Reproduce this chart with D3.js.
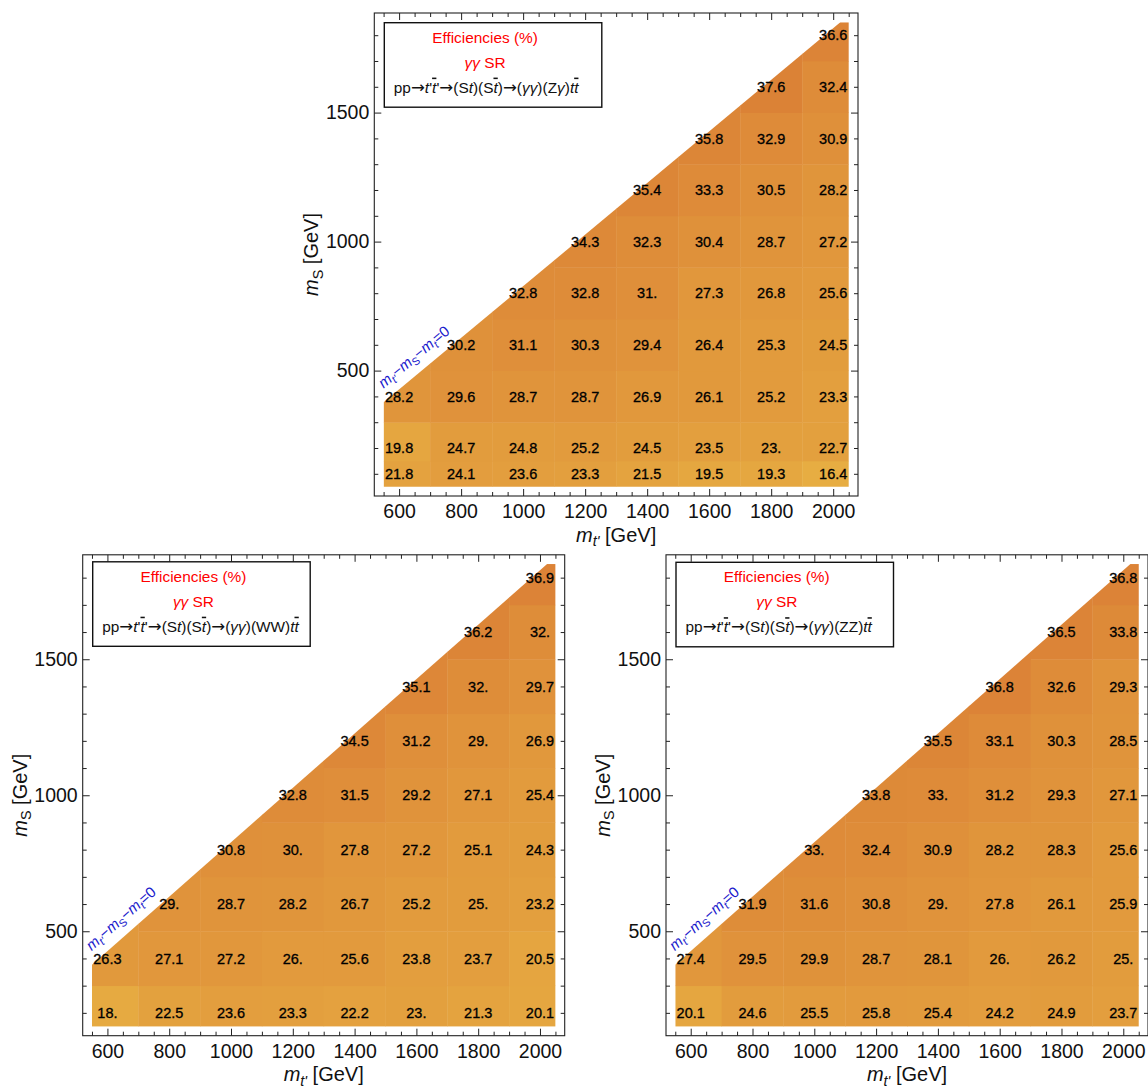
<!DOCTYPE html>
<html><head><meta charset="utf-8">
<script src="https://cdn.jsdelivr.net/npm/d3@7"></script>
<style>body{margin:0;background:#fff} svg{display:block} text{font-family:"Liberation Sans",Arial,Helvetica,sans-serif}</style>
</head><body>
<svg id="chart" width="1148" height="1088"></svg>
<script>
// ---------------- data ----------------
const mtPoints = [600, 800, 1000, 1200, 1400, 1600, 1800, 2000];   // m_t' (GeV)
const msRowsZg = [100, 200, 400, 600, 800, 1000, 1200, 1400, 1600, 1800]; // m_S rows, Zγ panel
const msRowsVV = [200, 400, 600, 800, 1000, 1200, 1400, 1600, 1800];      // m_S rows, WW / ZZ panels
const mTop = 173;  // top mass for the kinematic line m_t' - m_S - m_t = 0
// efficiencies (%) : one row per m_S, one column per m_t' (null = forbidden)
const effZgamma = [
  [21.8, 24.1, 23.6, 23.3, 21.5, 19.5, 19.3, 16.4],
  [19.8, 24.7, 24.8, 25.2, 24.5, 23.5, 23.0, 22.7],
  [28.2, 29.6, 28.7, 28.7, 26.9, 26.1, 25.2, 23.3],
  [null, 30.2, 31.1, 30.3, 29.4, 26.4, 25.3, 24.5],
  [null, null, 32.8, 32.8, 31.0, 27.3, 26.8, 25.6],
  [null, null, null, 34.3, 32.3, 30.4, 28.7, 27.2],
  [null, null, null, null, 35.4, 33.3, 30.5, 28.2],
  [null, null, null, null, null, 35.8, 32.9, 30.9],
  [null, null, null, null, null, null, 37.6, 32.4],
  [null, null, null, null, null, null, null, 36.6]
];
const effWW = [
  [18.0, 22.5, 23.6, 23.3, 22.2, 23.0, 21.3, 20.1],
  [26.3, 27.1, 27.2, 26.0, 25.6, 23.8, 23.7, 20.5],
  [null, 29.0, 28.7, 28.2, 26.7, 25.2, 25.0, 23.2],
  [null, null, 30.8, 30.0, 27.8, 27.2, 25.1, 24.3],
  [null, null, null, 32.8, 31.5, 29.2, 27.1, 25.4],
  [null, null, null, null, 34.5, 31.2, 29.0, 26.9],
  [null, null, null, null, null, 35.1, 32.0, 29.7],
  [null, null, null, null, null, null, 36.2, 32.0],
  [null, null, null, null, null, null, null, 36.9]
];
const effZZ = [
  [20.1, 24.6, 25.5, 25.8, 25.4, 24.2, 24.9, 23.7],
  [27.4, 29.5, 29.9, 28.7, 28.1, 26.0, 26.2, 25.0],
  [null, 31.9, 31.6, 30.8, 29.0, 27.8, 26.1, 25.9],
  [null, null, 33.0, 32.4, 30.9, 28.2, 28.3, 25.6],
  [null, null, null, 33.8, 33.0, 31.2, 29.3, 27.1],
  [null, null, null, null, 35.5, 33.1, 30.3, 28.5],
  [null, null, null, null, null, 36.8, 32.6, 29.3],
  [null, null, null, null, null, null, 36.5, 33.8],
  [null, null, null, null, null, null, null, 36.8]
];
const xMajorTicks = [600, 800, 1000, 1200, 1400, 1600, 1800, 2000];
const yMajorTicks = [500, 1000, 1500];
const legendTitle = "Efficiencies (%)";
const legendRegion = "SR";
const decayZg = [{t:"(Z"},{t:"γ",it:1},{t:")"}];
const decayWW = [{t:"(WW)"}];
const decayZZ = [{t:"(ZZ)"}];

// ---------------- layout ----------------
const panels = [
  {values: effZgamma, rows: msRowsZg, decay: decayZg, f:{x0:374.3,x1:858,y0:13,y1:496}, yDom:[14,1886], boxDy:9.7},
  {values: effWW, rows: msRowsVV, decay: decayWW, f:{x0:82.7,x1:564.7,y0:554.8,y1:1035.7}, yDom:[116,1884], boxDy:7},
  {values: effZZ, rows: msRowsVV, decay: decayZZ, f:{x0:666,x1:1148,y0:554.8,y1:1035.7}, yDom:[116,1884], boxDy:7.5}
];
const xDom = [520, 2080];
const color = d3.scaleLinear().domain([16, 38]).range(["#e7ae42", "#db8136"]);
const fmt = v => Number.isInteger(v) ? v + "." : v.toFixed(1);

const svg = d3.select("#chart");
const defs = svg.append("defs");

function rich(sel, segs, fs, base) {
  let shift = base || 0, first = true;
  segs.forEach(s => {
    const target = s.sub ? fs * 0.22 : 0;
    const ts = sel.append("tspan").text(s.t).attr("dy", first ? (base || 0) + target : target - shift);
    first = false;
    shift = target;
    if (s.sub) ts.attr("font-size", fs * 0.72);
    if (s.it) ts.attr("font-style", "italic");
    if (s.over) ts.style("text-decoration", "overline");
    if (s.arrow) ts.attr("font-family", "DejaVu Sans").attr("font-size", fs * 1.08);
  });
}

panels.forEach((p, pi) => {
  const f = p.f;
  const x = d3.scaleLinear().domain(xDom).range([f.x0, f.x1]);
  const y = d3.scaleLinear().domain(p.yDom).range([f.y1, f.y0]);
  const g = svg.append("g");

  // cell edges (nearest-neighbour blocks with half-cell padding of 50 GeV)
  const pad = 50;
  const yTopData = p.rows[p.rows.length - 1] + pad;
  const yBotData = p.rows[0] - pad;
  const xe = mtPoints.map((m, i) => [i === 0 ? m - pad : (mtPoints[i-1] + m) / 2,
                                     i === mtPoints.length - 1 ? m + pad : (m + mtPoints[i+1]) / 2]);
  const ye = p.rows.map((m, i) => [i === 0 ? m - pad : (p.rows[i-1] + m) / 2,
                                   i === p.rows.length - 1 ? m + pad : (m + p.rows[i+1]) / 2]);
  const xL = mtPoints[0] - pad, xR = mtPoints[mtPoints.length - 1] + pad;
  const poly = [[xL, yBotData], [xR, yBotData], [xR, yTopData], [yTopData + mTop, yTopData], [xL, xL - mTop]];
  defs.append("clipPath").attr("id", "clip" + pi)
    .append("polygon").attr("points", poly.map(d => [x(d[0]), y(d[1])].join(",")).join(" "));

  const cells = [];
  p.values.forEach((row, ri) => row.forEach((v, ci) => {
    if (v !== null) {
      const isTop = ri === p.values.length - 1 || p.values[ri + 1][ci] === null;
      cells.push({v, ci, ri, mt: mtPoints[ci], ms: p.rows[ri], y0: ye[ri][0], y1: isTop ? yTopData : ye[ri][1]});
    }
  }));

  g.append("g").attr("clip-path", `url(#clip${pi})`)
    .selectAll("rect").data(cells).join("rect")
    .attr("x", d => x(xe[d.ci][0]))
    .attr("y", d => y(d.y1))
    .attr("width", d => x(xe[d.ci][1]) - x(xe[d.ci][0]) + 0.4)
    .attr("height", d => y(d.y0) - y(d.y1) + 0.4)
    .attr("fill", d => color(d.v));

  g.append("g").selectAll("text").data(cells).join("text")
    .attr("x", d => x(d.mt)).attr("y", d => y(d.ms)).attr("dy", "0.36em")
    .attr("text-anchor", "middle").attr("font-size", 14.5)
    .attr("fill", "#000").attr("stroke", "#000").attr("stroke-width", 0.3)
    .text(d => fmt(d.v));

  // axes (inward ticks on all four sides)
  const xMinor = d3.range(550, 2051, 50).filter(v => !xMajorTicks.includes(v));
  const yMinor = d3.range(100, 1851, 100).filter(v => v >= p.yDom[0] && v <= p.yDom[1] && !yMajorTicks.includes(v));
  const styleAxis = a => { a.select(".domain").remove(); a.selectAll("line").attr("stroke", "#222"); };
  const ax = (gen, tx, ty) => g.append("g").attr("transform", `translate(${tx},${ty})`).call(gen).call(styleAxis);

  const bx = ax(d3.axisBottom(x).tickValues(xMajorTicks).tickSize(-7).tickSizeOuter(0).tickPadding(8.3).tickFormat(d3.format("d")), 0, f.y1);
  bx.selectAll("text").attr("font-size", 19.5).attr("fill", "#111").attr("font-family", "Liberation Sans, Arial, sans-serif");
  ax(d3.axisBottom(x).tickValues(xMinor).tickSize(-4).tickSizeOuter(0).tickFormat(""), 0, f.y1);
  ax(d3.axisTop(x).tickValues(xMajorTicks).tickSize(-7).tickSizeOuter(0).tickFormat(""), 0, f.y0);
  ax(d3.axisTop(x).tickValues(xMinor).tickSize(-4).tickSizeOuter(0).tickFormat(""), 0, f.y0);

  const ly = ax(d3.axisLeft(y).tickValues(yMajorTicks).tickSize(-7).tickSizeOuter(0).tickPadding(5).tickFormat(d3.format("d")), f.x0, 0);
  ly.selectAll("text").attr("font-size", 19.5).attr("fill", "#111").attr("font-family", "Liberation Sans, Arial, sans-serif");
  ax(d3.axisLeft(y).tickValues(yMinor).tickSize(-4).tickSizeOuter(0).tickFormat(""), f.x0, 0);
  ax(d3.axisRight(y).tickValues(yMajorTicks).tickSize(-7).tickSizeOuter(0).tickFormat(""), f.x1, 0);
  ax(d3.axisRight(y).tickValues(yMinor).tickSize(-4).tickSizeOuter(0).tickFormat(""), f.x1, 0);

  g.append("rect").attr("x", f.x0).attr("y", f.y0).attr("width", f.x1 - f.x0).attr("height", f.y1 - f.y0)
    .attr("fill", "none").attr("stroke", "#222").attr("stroke-width", 1.1);

  // axis titles
  const xt = g.append("text").attr("x", (f.x0 + f.x1) / 2).attr("y", f.y1 + 45.5)
    .attr("text-anchor", "middle").attr("font-size", 20).attr("fill", "#111");
  rich(xt, [{t:"m",it:1},{t:"t'",it:1,sub:1},{t:" [GeV]"}], 20);
  const yt = g.append("text").attr("transform", `translate(${f.x0 - 56},${(f.y0 + f.y1) / 2}) rotate(-90)`)
    .attr("text-anchor", "middle").attr("font-size", 20).attr("fill", "#111");
  rich(yt, [{t:"m",it:1},{t:"S",sub:1},{t:" [GeV]"}], 20);

  // kinematic line label
  const p0 = [x(xL), y(xL - mTop)], p1 = [x(yTopData + mTop), y(yTopData)];
  const ang = Math.atan2(p1[1] - p0[1], p1[0] - p0[0]) * 180 / Math.PI;
  const dl = g.append("text").attr("transform", `translate(${p0[0]},${p0[1]}) rotate(${ang})`)
    .attr("x", 8.5).attr("y", -10.5).attr("font-size", 15).attr("fill", "#1a1acc");
  rich(dl, [{t:"m",it:1},{t:"t'",it:1,sub:1},{t:"−"},{t:"m",it:1},{t:"S",sub:1},{t:"−"},{t:"m",it:1},{t:"t",it:1,sub:1},{t:"=0"}], 15);

  // legend box
  const fs = 15.4;
  const bx0 = f.x0 + 10, by0 = f.y0 + p.boxDy, bw = 217.5, bh = 84.5;
  g.append("rect").attr("x", bx0).attr("y", by0).attr("width", bw).attr("height", bh)
    .attr("fill", "#fff").attr("stroke", "#111").attr("stroke-width", 1.4);
  g.append("text").attr("x", bx0 + bw / 2 - 8).attr("y", by0 + 14.5 + fs * 0.35)
    .attr("text-anchor", "middle").attr("font-size", fs).attr("fill", "#ff0000").text(legendTitle);
  const l2 = g.append("text").attr("x", bx0 + bw / 2 - 8).attr("y", by0 + 39.5 + fs * 0.35)
    .attr("text-anchor", "middle").attr("font-size", fs).attr("fill", "#ff0000");
  rich(l2, [{t:"γγ",it:1},{t:" " + legendRegion}], fs);
  const l3 = g.append("text").attr("x", bx0 + 9.5).attr("y", by0 + 64.5 + fs * 0.35)
    .attr("font-size", fs).attr("fill", "#111");
  rich(l3, [{t:"pp"},{t:"→",arrow:1},{t:"t",it:1},{t:"'"},{t:"t",it:1,over:1},{t:"'"},{t:"→",arrow:1},{t:"(S"},{t:"t",it:1},{t:")(S"},
            {t:"t",it:1,over:1},{t:")"},{t:"→",arrow:1},{t:"("},{t:"γγ",it:1},{t:")"}].concat(p.decay, [{t:"t",it:1},{t:"t",it:1,over:1}]), fs);
});
</script>
</body></html>
